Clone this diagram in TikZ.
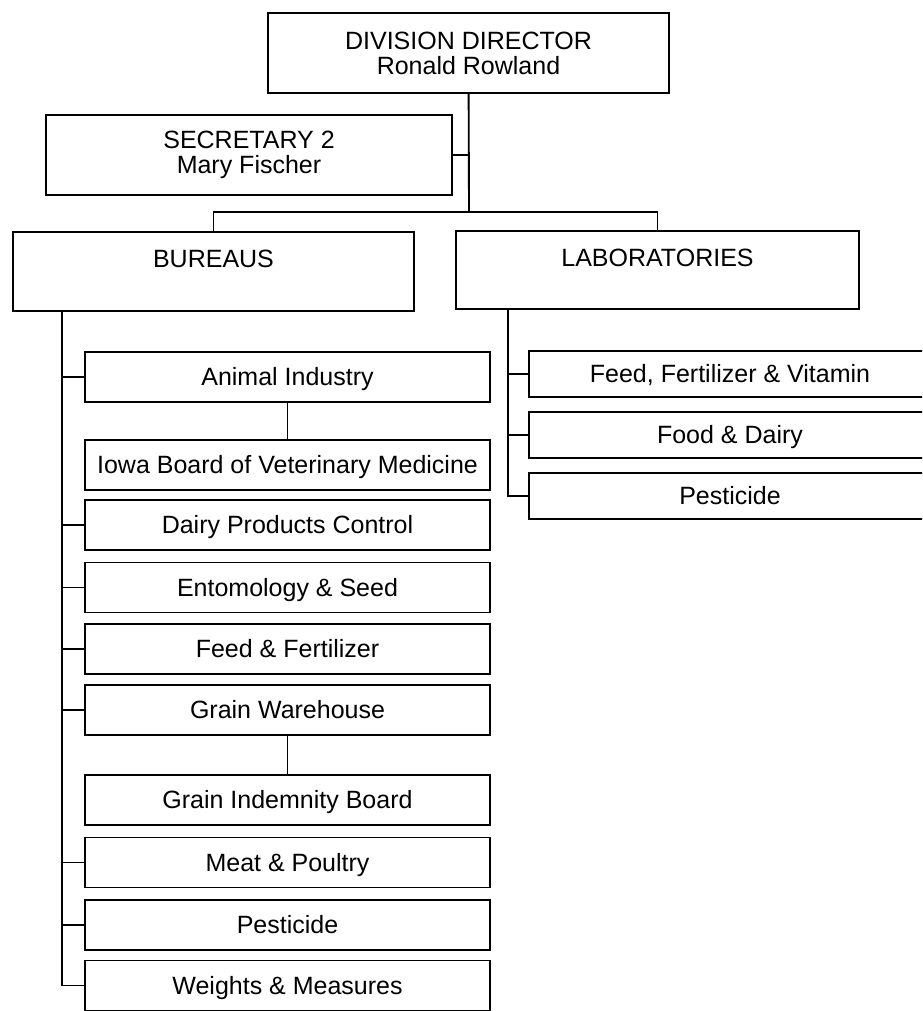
\documentclass[tikz,border=0pt]{standalone}
\usepackage{fontspec}
\setmainfont{Liberation Sans}
\usetikzlibrary{positioning}

\begin{document}
\begin{tikzpicture}[x=0.75pt, y=-0.75pt, line width=1.4pt] %Organigramme
		\tikzstyle{topbox} = [rectangle, draw, minimum width=301pt, minimum height=59pt, align=center, inner sep=0pt, font=\fontsize{18.75}{18.75}\selectfont]
		\tikzstyle{unitbox} = [rectangle, draw, minimum width=303.75pt, minimum height=37.5pt, align=center, inner sep=0pt, text height=13pt, text depth=0pt, font=\fontsize{18.75}{22}\selectfont]
		\useasboundingbox (0,0) rectangle (922,1011);
		\clip (0,0) rectangle (922,1011);
		\node[topbox, minimum height=60pt] (dir) at (468.5,53) {DIVISION DIRECTOR\\Ronald Rowland};
		\node[topbox, minimum width=304.5pt, minimum height=60pt] (sec) at (249,155) {SECRETARY 2\\Mary Fischer};
		\node[topbox] (bur) at (213.5,271.5) {BUREAUS\\\mbox{}};
		\node[topbox, minimum width=302.25pt] (lab) at (657.5,270) {LABORATORIES\\\mbox{}};
		\coordinate (split) at (469,212);
		\draw (dir) -- (split);
		\draw (sec.east) -- (sec.east -| dir.south);
		\draw (bur.north) |- (split) -| (lab.north);
		% bureaux
		\node[unitbox] (ai) at (287.5,377) {Animal Industry};
		\node[unitbox] (ib) at (287.5,465) {Iowa Board of Veterinary Medicine};
		\node[unitbox] (dp) at (287.5,525) {Dairy Products Control};
		\node[unitbox] (es) at (287.5,587.5) {Entomology \& Seed};
		\node[unitbox] (ff) at (287.5,649) {Feed \& Fertilizer};
		\node[unitbox] (gw) at (287.5,710) {Grain Warehouse};
		\node[unitbox] (gi) at (287.5,800) {Grain Indemnity Board};
		\node[unitbox] (mp) at (287.5,862.5) {Meat \& Poultry};
		\node[unitbox] (pb) at (287.5,925) {Pesticide};
		\node[unitbox] (wm) at (287.5,985.5) {Weights \& Measures};
		\coordinate (bspine) at (62,310);
		\draw (bspine) |- (wm.west);
		\foreach \u in {ai,dp,es,ff,gw,mp,pb}
		{
			\draw (\u.west) -- (\u.west -| bspine);
		}
		\draw (ai) -- (ib);
		\draw (gw) -- (gi);
		% laboratoires
		\node[unitbox, minimum width=301.5pt, minimum height=34.5pt] (lf) at (730,374) {Feed, Fertilizer \& Vitamin};
		\node[unitbox, minimum width=301.5pt, minimum height=34.5pt] (ld) at (730,435) {Food \& Dairy};
		\node[unitbox, minimum width=301.5pt, minimum height=34.5pt] (lp) at (730,496) {Pesticide};
		\coordinate (lspine) at (508,308);
		\draw (lspine) |- (lp.west);
		\foreach \u in {lf,ld}
		{
			\draw (\u.west) -- (\u.west -| lspine);
		}
\end{tikzpicture}
\end{document}
